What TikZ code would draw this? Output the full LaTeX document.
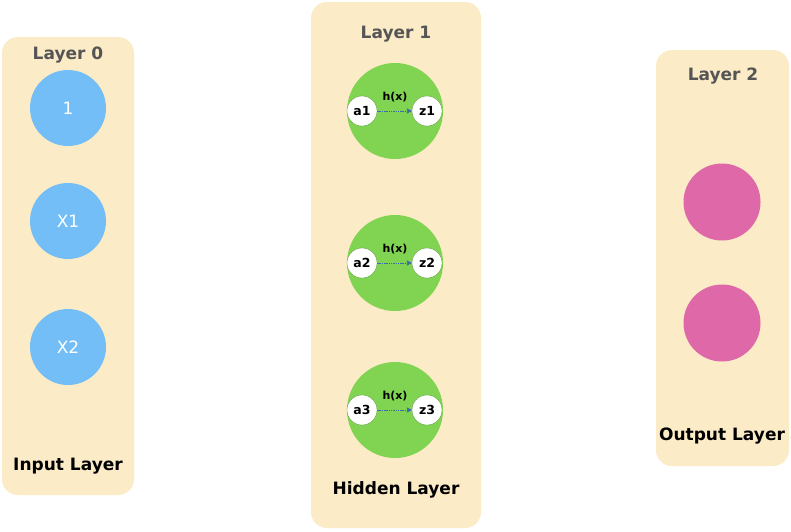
\documentclass[tikz,border=0pt]{standalone}
\usepackage{fontspec}
\setmainfont{DejaVu Sans}
\usetikzlibrary{arrows.meta}
\definecolor{panel}{HTML}{FBEBC6}
\definecolor{bluec}{HTML}{74BEF8}
\definecolor{greenc}{HTML}{80D452}
\definecolor{pinkc}{HTML}{DF68A8}
\definecolor{graytxt}{HTML}{555555}
\definecolor{arrowc}{HTML}{3A6EA5}
\begin{document}
\begin{tikzpicture}[x=1pt,y=-1pt,
  panelbox/.style={fill=panel,draw=none,rounded corners=16pt},
  inpnode/.style={circle,fill=bluec,minimum size=76pt,inner sep=0pt,text=white,font=\fontsize{17}{17}\selectfont},
  hidnode/.style={circle,fill=greenc,minimum size=96pt,inner sep=0pt},
  outnode/.style={circle,fill=pinkc,minimum size=77pt,inner sep=0pt},
  smallnode/.style={circle,fill=white,draw=greenc!70!black,line width=0.3pt,minimum size=30pt,inner sep=0pt,font=\bfseries\fontsize{12.5}{12.5}\selectfont},
  layertitle/.style={text=graytxt,font=\bfseries\fontsize{17}{17}\selectfont},
  layername/.style={text=black,font=\bfseries\fontsize{17}{17}\selectfont},
  hlabel/.style={font=\bfseries\fontsize{11}{11}\selectfont},
  conn/.style={draw=arrowc,densely dashed,dash pattern=on 1.5pt off 0.8pt,line width=0.8pt,-{Triangle[length=5pt,width=5pt]}}]
\useasboundingbox (0,0) rectangle (791,531);
% panels
\fill[panelbox] (2,37) rectangle (134,495);
\fill[panelbox] (311,2) rectangle (481,528);
\fill[panelbox] (656,50) rectangle (789,466);
% titles
\node[layertitle] (t0) at (68,55) {Layer 0};
\node[layertitle] (t1) at (396,34) {Layer 1};
\node[layertitle] (t2) at (723,76) {Layer 2};
\node[layername] (n0) at (68,466) {Input Layer};
\node[layername] (n1) at (396,490) {Hidden Layer};
\node[layername] (n2) at (722,436) {Output Layer};
% input
\node[inpnode] (i0) at (68,108) {1};
\node[inpnode] (i1) at (68,221) {X1};
\node[inpnode] (i2) at (68,347) {X2};
% hidden
\foreach \k/\y in {1/111,2/263,3/410}{
  \node[hidnode] (h\k) at (395,\y) {};
  \node[smallnode] (a\k) at (362,\y) {a\k};
  \node[smallnode] (z\k) at (427,\y) {z\k};
  \node[hlabel] (l\k) at (395,\y-14) {h(x)};
  \draw[conn] (a\k) -- (z\k);
}
% output
\node[outnode] (o1) at (722,202) {};
\node[outnode] (o2) at (722,323) {};
\end{tikzpicture}
\end{document}
